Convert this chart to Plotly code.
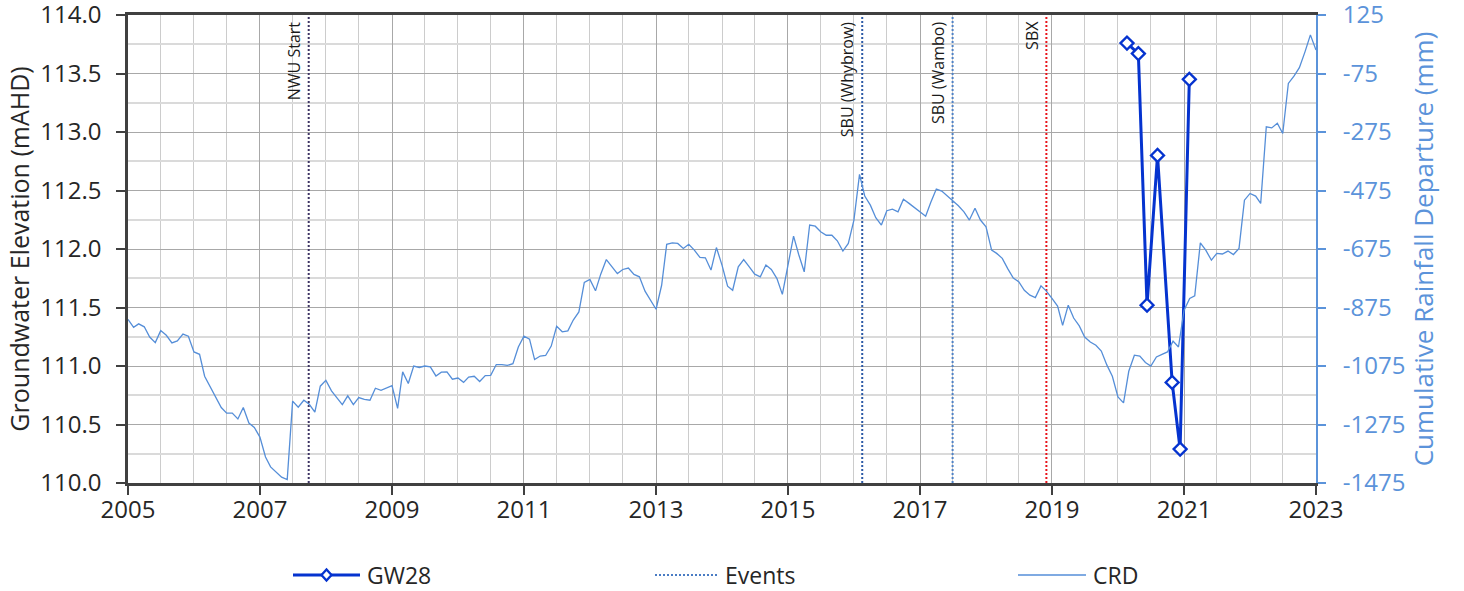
import pandas as pd
import plotly.graph_objects as go

# ---------------- data ----------------
gw28_dates = ["2020-02-20", "2020-04-23", "2020-06-10", "2020-08-07",
              "2020-10-27", "2020-12-10", "2021-01-30"]
gw28_values = [113.76, 113.67, 111.52, 112.80, 110.86, 110.29, 113.45]

crd_start = "2005-01-01"
crd_values = [
    -916, -943, -931, -941, -976, -995, -954, -970, -996, -989, -966, -973,
    -1027, -1035, -1110, -1147, -1181, -1217, -1236, -1236, -1256, -1217, -1270, -1285,
    -1318, -1386, -1420, -1437, -1455, -1463, -1195, -1216, -1192, -1206, -1233, -1144,
    -1124, -1160, -1184, -1207, -1177, -1207, -1183, -1189, -1192, -1151, -1158, -1150,
    -1142, -1220, -1095, -1135, -1075, -1080, -1075, -1078, -1109, -1096, -1095, -1120,
    -1116, -1131, -1113, -1110, -1128, -1108, -1107, -1070, -1070, -1073, -1067, -1010,
    -973, -983, -1053, -1041, -1039, -1007, -939, -958, -955, -918, -890, -789,
    -779, -818, -761, -711, -736, -759, -745, -740, -762, -770, -819, -850,
    -881, -799, -659, -654, -656, -673, -659, -679, -704, -705, -747, -670,
    -730, -802, -816, -736, -711, -736, -761, -770, -730, -745, -776, -830,
    -736, -631, -693, -753, -593, -597, -616, -628, -628, -647, -682, -656,
    -576, -420, -494, -525, -568, -593, -544, -539, -548, -505, -519, -533,
    -548, -563, -516, -470, -477, -493, -510, -527, -548, -576, -536, -576,
    -599, -679, -690, -707, -742, -774, -787, -816, -833, -841, -801, -819,
    -844, -870, -936, -867, -911, -938, -976, -993, -1004, -1024, -1072, -1110,
    -1181, -1201, -1093, -1038, -1041, -1063, -1075, -1044, -1035, -1027, -990, -1010,
    -884, -844, -835, -654, -679, -713, -690, -692, -682, -694, -673, -508,
    -485, -494, -519, -257, -261, -245, -280, -109, -84, -55, -1, 57,
    5,
]
crd_dates = pd.date_range(crd_start, periods=len(crd_values), freq="MS")

event_names = ["NWU Start", "SBU (Whybrow)", "SBU (Wambo)", "SBX"]
event_dates = ["2007-09-28", "2016-02-16", "2017-06-30", "2018-12-01"]
event_colors = ["#3d3463", "#2c5aa6", "#4f82c6", "#e8141b"]

left_range = [110.0, 114.0]
right_range = [-1475, 125]
right_ticks = [125, -75, -275, -475, -675, -875, -1075, -1275, -1475]
legend_names = ["GW28", "Events", "CRD"]

# ---------------- style ----------------
FONT = "'Open Sans', sans-serif"
TXT = "#262626"
CRD_COLOR = "#558ed8"
AX2_COLOR = "#5b93da"
GW_COLOR = "#0533cf"
EVT_LEG_COLOR = "#4a7cc4"

W, H = 1464, 591
L, T = 128, 15
R = W - L - 1188
B = H - 483
PW, PH = W - L - R, H - T - B


def px_x(px):               # page pixel -> paper fraction
    return (px - L) / PW


def px_y(py):
    return (H - B - py) / PH


fig = go.Figure()

fig.add_trace(go.Scatter(
    x=crd_dates, y=crd_values, name="CRD", yaxis="y2", mode="lines",
    line=dict(color=CRD_COLOR, width=1.3), showlegend=False,
))

for nm, d, c in zip(event_names, event_dates, event_colors):
    fig.add_trace(go.Scatter(
        x=[d, d], y=left_range, mode="lines", name="Events",
        line=dict(color=c, width=2, dash="2px,2px"),
        showlegend=False, hoverinfo="skip",
    ))
    fig.add_annotation(
        x=d, y=1, xref="x", yref="paper", text=nm, textangle=-90,
        xanchor="right", yanchor="top", showarrow=False, xshift=-2, yshift=-4,
        font=dict(family=FONT, size=16, color="#1a1a1a"),
    )

fig.add_trace(go.Scatter(
    x=gw28_dates, y=gw28_values, name="GW28", mode="lines+markers",
    line=dict(color=GW_COLOR, width=3),
    marker=dict(symbol="diamond", size=10, color="white",
                line=dict(width=2.3, color=GW_COLOR)),
    showlegend=False,
))

# ---------------- custom legend (long line keys as in the original) ----------------
leg_y = px_y(575)
leg_items = [
    (legend_names[0], 293, 360, dict(color=GW_COLOR, width=3)),
    (legend_names[1], 655, 718, dict(color=EVT_LEG_COLOR, width=2, dash="2px,2px")),
    (legend_names[2], 1018, 1086, dict(color=CRD_COLOR, width=1.5)),
]
for name, x0, x1, ln in leg_items:
    fig.add_shape(type="line", xref="paper", yref="paper",
                  x0=px_x(x0), x1=px_x(x1), y0=leg_y, y1=leg_y, line=ln)
    fig.add_annotation(x=px_x(x1 + 6), y=leg_y, xref="paper", yref="paper",
                       text=name, showarrow=False, xanchor="left", yanchor="middle",
                       font=dict(family=FONT, size=23, color=TXT), borderpad=0)
fig.add_shape(type="path", xref="paper", yref="paper",
              xsizemode="pixel", ysizemode="pixel",
              xanchor=px_x(326.5), yanchor=leg_y,
              path="M -5 0 L 0 5.5 L 5 0 L 0 -5.5 Z",
              fillcolor="white", line=dict(color=GW_COLOR, width=2.3))

fig.update_layout(
    width=W, height=H,
    margin=dict(l=L, r=R, t=T, b=B, autoexpand=False),
    paper_bgcolor="white", plot_bgcolor="white",
    font=dict(family=FONT, size=24, color=TXT),
    showlegend=False,
    xaxis=dict(
        type="date", range=["2005-01-01", "2023-01-01"],
        tick0="2005-01-01", dtick="M24", tickformat="%Y",
        ticks="outside", ticklen=9, tickcolor="#404040", tickwidth=1.5,
        showline=True, linecolor="#404040", linewidth=2.5, mirror=True,
        showgrid=True, gridcolor="#a8a8a8", gridwidth=1,
        minor=dict(dtick="M6", showgrid=True, gridcolor="#cccccc", gridwidth=1),
        tickfont=dict(family=FONT, size=24, color=TXT),
        zeroline=False, automargin=False, ticklabelstandoff=-6,
        ticklabeloverflow="allow",
    ),
    yaxis=dict(
        range=left_range, dtick=0.5, tick0=110, tickformat=".1f",
        ticks="outside", ticklen=9, tickcolor="#404040", tickwidth=1.5,
        showline=True, linecolor="#404040", linewidth=2.5,
        showgrid=True, gridcolor="#a8a8a8", gridwidth=1,
        minor=dict(dtick=0.25, showgrid=True, gridcolor="#dadada", gridwidth=1.5),
        title=dict(text="Groundwater Elevation (mAHD)",
                   font=dict(family=FONT, size=25, color=TXT), standoff=4),
        tickfont=dict(family=FONT, size=24, color=TXT),
        zeroline=False, automargin=False, ticklabelstandoff=10,
        ticklabeloverflow="allow",
    ),
    yaxis2=dict(
        overlaying="y", side="right", range=right_range,
        tickmode="array", tickvals=right_ticks, ticktext=[str(v) for v in right_ticks],
        ticks="outside", ticklen=8, tickcolor=AX2_COLOR, tickwidth=1.5,
        showline=True, linecolor=AX2_COLOR, linewidth=2,
        showgrid=False, zeroline=False,
        title=dict(text="Cumulative Rainfall Departure (mm)",
                   font=dict(family=FONT, size=26, color=AX2_COLOR), standoff=10),
        tickfont=dict(family=FONT, size=24, color=AX2_COLOR),
        automargin=False, ticklabelstandoff=12, ticklabeloverflow="allow",
    ),
)

# remove the browser's default 8px page margin so the figure sits at the page origin
fig.write_html("out.html", config={"displayModeBar": False},
               post_script="document.body.style.margin='0px';")
